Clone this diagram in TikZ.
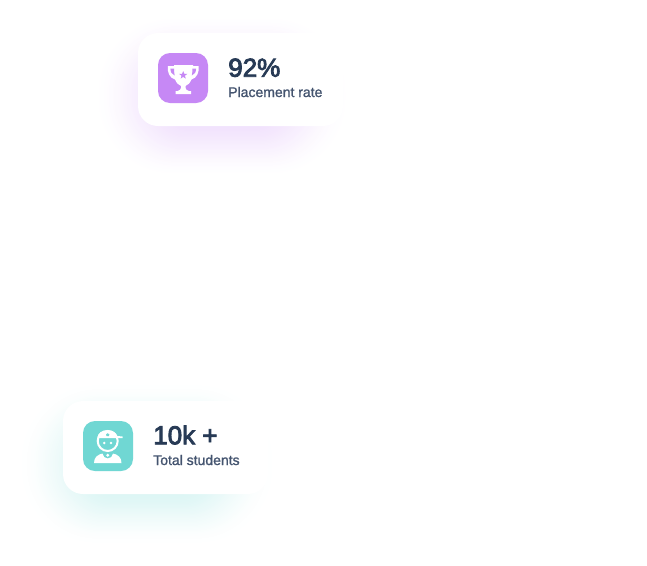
\documentclass[tikz,border=0pt]{standalone}
\usepackage{fontspec}
\setmainfont{Liberation Sans}
\newfontfamily\headfont[FakeBold=3.2]{Liberation Sans}
\newfontfamily\subfont[FakeBold=1.3]{Liberation Sans}
\definecolor{purp}{HTML}{C688F5}
\definecolor{teal2}{HTML}{70D7D3}
\definecolor{headc}{HTML}{273A55}
\definecolor{subc}{HTML}{44546F}
\tikzset{
  headtxt/.style={anchor=base west,inner sep=0pt,text=headc,font=\headfont\fontsize{19.5}{20}\selectfont},
  subtxt/.style={anchor=base west,inner sep=0pt,text=subc,font=\subfont\fontsize{10.5}{12}\selectfont},
  cardbox/.style={fill=white,rounded corners=15pt},
  iconbox/.style={rounded corners=9pt}
}
% #1 colour, #2,#3 centre of the soft shadow
\newcommand{\softshadow}[3]{%
  \foreach \i in {0,...,60}{%
    \pgfmathsetmacro{\t}{\i/60}%
    \pgfmathsetmacro{\hx}{130-105*\t}%
    \pgfmathsetmacro{\hy}{82-77*\t}%
    \pgfmathsetmacro{\u}{min(1,\t/0.8)}%
    \pgfmathsetmacro{\p}{26*\u*\u*(3-2*\u)}%
    \pgfmathsetmacro{\r}{0.72*\hy}%
    \fill[#1!\p!white,rounded corners=\r pt]
      ({#2-\hx},{#3-\hy}) rectangle ({#2+\hx},{#3+\hy});
  }%
}
\begin{document}
\begin{tikzpicture}[x=0.75pt,y=-0.75pt]
\useasboundingbox (0,0) rectangle (647,565);
\fill[white] (0,0) rectangle (647,565);
% shadows
\softshadow{purp}{222}{96}
\softshadow{teal2}{147}{464}
% cards
\fill[cardbox] (138,33) rectangle (343,126);
\fill[cardbox] (63,401) rectangle (268,494);
% trophy icon
\fill[purp,iconbox] (158,53) rectangle (208,103);
\fill[white] (174,65) -- (193,65) -- (193,66) -- (198.5,66) .. controls (199.5,72) and (197,78) .. (191.5,79.5)
  .. controls (190,83) and (188,85) .. (185.5,86) -- (185.5,88) .. controls (185.5,89.5) and (187,90.5) .. (189,91)
  -- (191,91) -- (191,94) -- (175.5,94) -- (175.5,91) -- (177.5,91) .. controls (179.5,90.5) and (181,89.5) .. (181,88)
  -- (181,86) .. controls (178.5,85) and (176.5,83) .. (175,79.5) .. controls (169.5,78) and (167,72) .. (168,66) -- (174,66) -- cycle;
\fill[purp] (170.4,68.5) -- (174,68.5) .. controls (174,71) and (174.2,73.5) .. (174.7,75.5) .. controls (172,74.5) and (170.4,72) .. (170.4,68.5) -- cycle;
\fill[purp] (196.1,68.5) -- (192.5,68.5) .. controls (192.5,71) and (192.3,73.5) .. (191.8,75.5) .. controls (194.5,74.5) and (196.1,72) .. (196.1,68.5) -- cycle;
\fill[purp] (183.2,71) -- (184.3,73.8) -- (187.3,73.9) -- (184.9,75.7) -- (185.8,78.6) -- (183.2,76.9) -- (180.7,78.6) -- (181.5,75.7) -- (179.1,73.9) -- (182.1,73.8) -- cycle;
% student icon
\fill[teal2,iconbox] (83,421) rectangle (133,471);
\fill[white] (94,463) .. controls (94,457) and (98,454.5) .. (102.5,453.5) .. controls (103,456.5) and (105,458.5) .. (107.7,458.5) .. controls (110.5,458.5) and (112.5,456.5) .. (113,453.5) .. controls (117.5,454.5) and (121.5,457) .. (121.5,463) -- cycle;
\fill[white] (107.7,455.2) circle (1.6);
\draw[white,line width=1.5pt,fill=teal2] (107.7,441) circle (10);
\fill[white] (97.5,438) .. controls (97.5,433) and (102,430.2) .. (107.7,430.2) .. controls (112.5,430.2) and (116,432.5) .. (117.2,436) -- (122.5,436.5) -- (122.5,438) -- cycle;
\fill[teal2] (107.7,433.2) -- (109.4,434.5) -- (108.8,436) -- (106.6,436) -- (106,434.5) -- cycle;
\fill[white] (104.3,443) circle (1.4) (111,443) circle (1.4);
% texts
\node[headtxt] (rate) at (228,76.7) {92\%};
\node[subtxt] (ratesub) at (228,97) {Placement rate};
\node[headtxt] (total) at (153,444.3) {10k +};
\node[subtxt] (totalsub) at (153,465) {Total students};
\end{tikzpicture}
\end{document}
